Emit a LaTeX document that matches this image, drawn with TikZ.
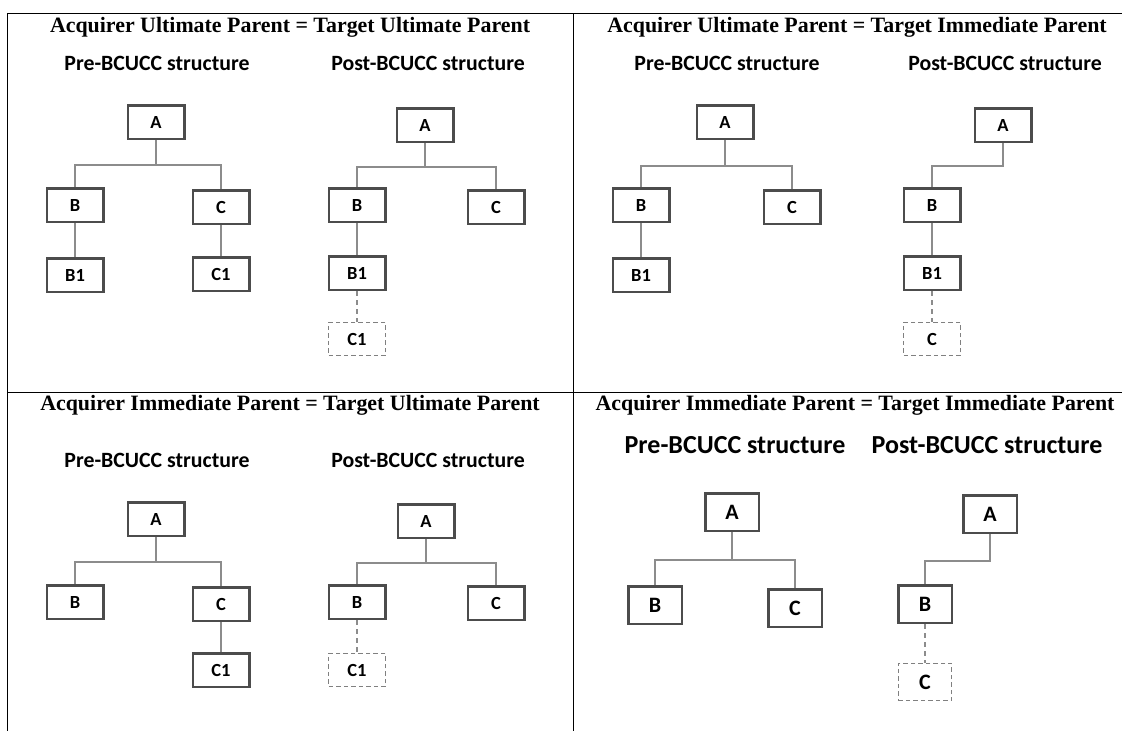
\documentclass[tikz,border=0pt]{standalone}
\usepackage{fontspec}
\setmainfont{Liberation Serif}
\newfontfamily\carl{Carlito}
\begin{document}
\begin{tikzpicture}[x=1pt,y=-1pt,
  ent/.style={draw=black!70,line width=2.5pt,minimum width=56.5pt,minimum height=33.5pt,inner sep=0pt,font=\carl\bfseries\fontsize{18.5}{18.5}\selectfont,text=black},
  bigent/.style={ent,minimum width=53.5pt,minimum height=37.5pt,font=\carl\bfseries\fontsize{22}{22}\selectfont},
  newent/.style={draw=black!50,line width=1.4pt,dash pattern=on 4.5pt off 3pt},
  conn/.style={draw=black!45,line width=1.9pt},
  dconn/.style={conn,dash pattern=on 5pt off 4pt},
  ttl/.style={font=\bfseries\fontsize{21.9}{21.9}\selectfont,inner sep=0pt},
  sub/.style={font=\carl\bfseries\fontsize{21.8}{21.8}\selectfont,inner sep=0pt},
  bigsub/.style={font=\carl\bfseries\fontsize{26}{26}\selectfont,inner sep=0pt},
  grid/.style={draw=black,line width=0.9pt}]
\useasboundingbox (0,0) rectangle (1122,731);
% table rules
\coordinate (tl) at (7.5,13);
\coordinate (tr) at (1122,13);
\coordinate (bl) at (7.5,731);
\coordinate (tm) at (573,13);
\coordinate (bm) at (573,731);
\coordinate (ml) at (7.5,392);
\coordinate (mr) at (1122,392);
\draw[grid] (tl) -- (tr);
\draw[grid] (tl) -- (bl);
\draw[grid] (tm) -- (bm);
\draw[grid] (ml) -- (mr);

% ---------- Panel 1 ----------
\node[ttl] (t1) at (290,27) {Acquirer Ultimate Parent = Target Ultimate Parent};
\node[sub] (s1a) at (157,63) {Pre-BCUCC structure};
\node[sub] (s1b) at (428,63) {Post-BCUCC structure};
\node[ent] (p1A) at (156,122) {A};
\node[ent] (p1B) at (75,205) {B};
\node[ent] (p1C) at (221,207) {C};
\node[ent] (p1B1) at (75,275) {B1};
\node[ent] (p1C1) at (221,274) {C1};
\draw[conn] (p1A.south) -- ++(0,25) coordinate (p1j) -| (p1B.north);
\draw[conn] (p1j) -| (p1C.north);
\draw[conn] (p1B.south) -- (p1B1.north);
\draw[conn] (p1C.south) -- (p1C1.north);

\node[ent] (q1A) at (425,125) {A};
\node[ent] (q1B) at (357,205) {B};
\node[ent] (q1C) at (496,207) {C};
\node[ent] (q1B1) at (357,273) {B1};
\node[ent,newent] (q1C1) at (357,339) {C1};
\draw[conn] (q1A.south) -- ++(0,24) coordinate (q1j) -| (q1B.north);
\draw[conn] (q1j) -| (q1C.north);
\draw[conn] (q1B.south) -- (q1B1.north);
\draw[dconn] (q1B1.south) -- (q1C1.north);

% ---------- Panel 2 ----------
\node[ttl] (t2) at (857,27) {Acquirer Ultimate Parent = Target Immediate Parent};
\node[sub] (s2a) at (727,63) {Pre-BCUCC structure};
\node[sub] (s2b) at (1005,63) {Post-BCUCC structure};
\node[ent] (p2A) at (725,122) {A};
\node[ent] (p2B) at (641,205) {B};
\node[ent] (p2C) at (792,207) {C};
\node[ent] (p2B1) at (641,275) {B1};
\draw[conn] (p2A.south) -- ++(0,26) coordinate (p2j) -| (p2B.north);
\draw[conn] (p2j) -| (p2C.north);
\draw[conn] (p2B.south) -- (p2B1.north);

\node[ent] (q2A) at (1003,125) {A};
\node[ent] (q2B) at (932,205) {B};
\node[ent] (q2B1) at (932,273) {B1};
\node[ent,newent] (q2C) at (932,339) {C};
\draw[conn] (q2A.south) -- ++(0,23) -| (q2B.north);
\draw[conn] (q2B.south) -- (q2B1.north);
\draw[dconn] (q2B1.south) -- (q2C.north);

% ---------- Panel 3 ----------
\node[ttl] (t3) at (290,405) {Acquirer Immediate Parent = Target Ultimate Parent};
\node[sub] (s3a) at (157,460) {Pre-BCUCC structure};
\node[sub] (s3b) at (428,460) {Post-BCUCC structure};
\node[ent] (p3A) at (156,519) {A};
\node[ent] (p3B) at (75,602) {B};
\node[ent] (p3C) at (221,604) {C};
\node[ent] (p3C1) at (221,670) {C1};
\draw[conn] (p3A.south) -- ++(0,25) coordinate (p3j) -| (p3B.north);
\draw[conn] (p3j) -| (p3C.north);
\draw[conn] (p3C.south) -- (p3C1.north);

\node[ent] (q3A) at (426,521) {A};
\node[ent] (q3B) at (357,602) {B};
\node[ent] (q3C) at (496,603) {C};
\node[ent,newent] (q3C1) at (357,670) {C1};
\draw[conn] (q3A.south) -- ++(0,24) coordinate (q3j) -| (q3B.north);
\draw[conn] (q3j) -| (q3C.north);
\draw[dconn] (q3B.south) -- (q3C1.north);

% ---------- Panel 4 ----------
\node[ttl] (t4) at (855,405) {Acquirer Immediate Parent = Target Immediate Parent};
\node[bigsub] (s4a) at (735,445) {Pre-BCUCC structure};
\node[bigsub] (s4b) at (987,445) {Post-BCUCC structure};
\node[bigent] (p4A) at (732,512) {A};
\node[bigent] (p4B) at (655,605) {B};
\node[bigent] (p4C) at (795,608) {C};
\draw[conn] (p4A.south) -- ++(0,28) coordinate (p4j) -| (p4B.north);
\draw[conn] (p4j) -| (p4C.north);

\node[bigent] (q4A) at (990,514) {A};
\node[bigent] (q4B) at (925,604) {B};
\node[bigent,newent] (q4C) at (925,682) {C};
\draw[conn] (q4A.south) -- ++(0,27) -| (q4B.north);
\draw[dconn] (q4B.south) -- (q4C.north);
\end{tikzpicture}
\end{document}
